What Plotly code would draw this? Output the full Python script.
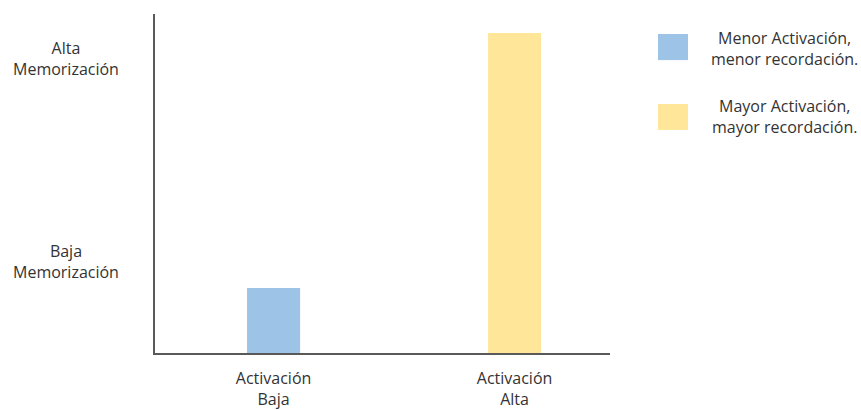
import plotly.graph_objects as go

# Data
categories = ["Activación<br>Baja", "Activación<br>Alta"]
cat_pos = [0, 1]
memorization = [1.92, 9.44]
bar_colors = ["#9DC3E6", "#FFE699"]
y_labels = ["Alta<br>Memorización", "Baja<br>Memorización"]
y_label_pos = [8.7, 2.7]
legend_labels = ["Menor Activación,<br>menor recordación.", "Mayor Activación,<br>mayor recordación."]

FONT = "Open Sans"
TXT = "#333333"
FS = 16

fig = go.Figure()
fig.add_trace(go.Bar(
    x=cat_pos, y=memorization, width=0.22,
    marker=dict(color=bar_colors, line=dict(width=0)),
    showlegend=False, hoverinfo="skip",
))

annotations = []
for lab, yv in zip(y_labels, y_label_pos):
    annotations.append(dict(
        x=-0.195, xref="paper", y=yv, yref="y", text=lab, showarrow=False,
        xanchor="center", yanchor="middle", align="center",
        font=dict(family=FONT, size=FS, color=TXT),
    ))

shapes = []
sw = [(1.1055, 0.941, 1.1714, 0.864), (1.1055, 0.7345, 1.1714, 0.658)]
text_y = [0.897, 0.699]
for (x0, y0, x1, y1), col, lab, ty in zip(sw, bar_colors, legend_labels, text_y):
    shapes.append(dict(type="rect", xref="paper", yref="paper",
                       x0=x0, x1=x1, y0=y1, y1=y0,
                       fillcolor=col, line=dict(width=0)))
    annotations.append(dict(
        x=1.3846, xref="paper", y=ty, yref="paper", text=lab, showarrow=False,
        xanchor="center", yanchor="middle", align="center",
        font=dict(family=FONT, size=FS, color=TXT),
    ))

fig.update_layout(
    width=861, height=410,
    margin=dict(l=155, r=251, t=14, b=57, autoexpand=False),
    paper_bgcolor="white", plot_bgcolor="white",
    font=dict(family=FONT, size=FS, color=TXT),
    annotations=annotations, shapes=shapes,
    xaxis=dict(range=[-0.492, 1.396], tickvals=cat_pos, ticktext=categories,
               showgrid=False, zeroline=False, showline=True,
               linecolor="#595959", linewidth=2, ticks="",
               automargin=False, ticklabelstandoff=10,
               tickfont=dict(family=FONT, size=FS, color=TXT)),
    yaxis=dict(range=[0, 10], showticklabels=False, showgrid=False,
               zeroline=False, showline=True, linecolor="#595959",
               linewidth=2, ticks="", automargin=False),
)

fig.write_html("out.html")
